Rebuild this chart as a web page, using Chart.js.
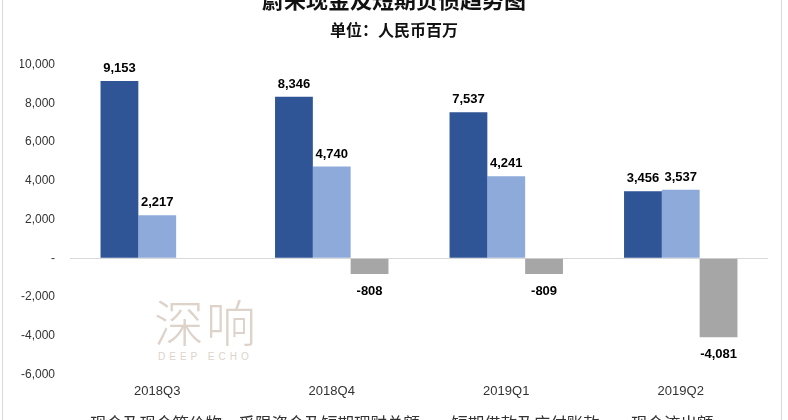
<!DOCTYPE html>
<html lang="zh-CN">
<head>
<meta charset="UTF-8">
<title>蔚来现金及短期负债趋势图</title>
<script src="https://cdn.jsdelivr.net/npm/chart.js@4.4.1/dist/chart.umd.min.js"></script>
<style>
  html, body { margin: 0; padding: 0; background: #fff; overflow: hidden; }
  #frame { position: absolute; left: 0; top: 0; width: 788px; height: 420px; overflow: hidden; }
  #wrap { position: absolute; left: 0; top: -14px; width: 788px; height: 456px; }
  .edge { position: absolute; left: 2px; top: 0; width: 778px; height: 420px;
          border-left: 1px solid #d9d9d9; border-right: 1px solid #d9d9d9; pointer-events: none; }
  .wm { position: absolute; color: #ddd3ca; font-family: "Noto Sans CJK SC", sans-serif; }
  .wm.cn { left: 154px; top: 284px; font-size: 50px; font-weight: 300; letter-spacing: 2px; }
  .wm.en { left: 158px; top: 351px; font-size: 10px; letter-spacing: 4px; font-family: "Liberation Sans", sans-serif; }
</style>
</head>
<body>
<div id="frame">
  <div class="wm cn">深响</div>
  <div class="wm en">DEEP ECHO</div>
  <div id="wrap"><canvas id="chart" width="788" height="456"></canvas></div>
  <div class="edge"></div>
</div>
<script>
// values (RMB million)
const categories = ['2018Q3', '2018Q4', '2019Q1', '2019Q2'];
const cashTotal = [9153, 8346, 7537, 3456];
const shortDebt = [2217, 4740, 4241, 3537];
const cashOutflow = [null, -808, -809, -4081];
const seriesNames = ['现金及现金等价物、受限资金及短期理财总额', '短期借款及应付账款', '现金流出额'];
const seriesColors = ['#2f5597', '#8eaadb', '#a6a6a6'];
const yMin = -6000, yMax = 10000, yStep = 2000;

// value labels above / below each bar
const barLabels = {
  id: 'barLabels',
  afterDatasetsDraw(chart) {
    const ctx = chart.ctx;
    ctx.save();
    ctx.font = 'bold 13px "Liberation Sans", Arial, sans-serif';
    ctx.fillStyle = '#000';
    ctx.textAlign = 'center';
    chart.data.datasets.forEach((ds, i) => {
      chart.getDatasetMeta(i).data.forEach((bar, j) => {
        const v = ds.data[j];
        if (v == null) return;
        const text = v.toLocaleString('en-US');
        if (v >= 0) {
          ctx.textBaseline = 'bottom';
          ctx.fillText(text, bar.x, bar.y - 6);
        } else {
          ctx.textBaseline = 'middle';
          ctx.fillText(text, bar.x, bar.y + 17);
        }
      });
    });
    ctx.restore();
  }
};

const datasets = [cashTotal, shortDebt, cashOutflow].map((data, i) => ({
  label: seriesNames[i],
  data: data,
  backgroundColor: seriesColors[i],
  borderWidth: 0,
  barPercentage: 1,
  categoryPercentage: 0.65
}));

new Chart(document.getElementById('chart'), {
  type: 'bar',
  data: { labels: categories, datasets: datasets },
  plugins: [barLabels],
  options: {
    responsive: false,
    animation: false,
    layout: { padding: { left: 20, right: 20, top: 0, bottom: 0 } },
    plugins: {
      title: {
        display: true,
        text: '蔚来现金及短期负债趋势图',
        color: '#111',
        font: { family: '"Noto Sans CJK SC", sans-serif', size: 22, weight: 'bold' },
        padding: { top: 0, bottom: 0 }
      },
      subtitle: {
        display: true,
        text: '单位：人民币百万',
        color: '#111',
        font: { family: '"Noto Sans CJK SC", sans-serif', size: 16, weight: 'bold' },
        padding: { top: 8, bottom: 25 }
      },
      legend: {
        position: 'bottom',
        labels: {
          boxWidth: 7,
          boxHeight: 7,
          color: '#333',
          padding: 16,
          font: { family: '"Noto Sans CJK SC", sans-serif', size: 16.5 }
        }
      },
      tooltip: { enabled: false }
    },
    scales: {
      x: {
        grid: { display: false, drawTicks: false },
        border: { display: false },
        ticks: {
          color: '#333',
          padding: 9,
          font: { family: '"Liberation Sans", Arial, sans-serif', size: 13 }
        },
        afterFit: s => { s.height = 25; }
      },
      y: {
        min: yMin,
        max: yMax,
        border: { display: false },
        grid: {
          drawTicks: false,
          color: ctx => (ctx.tick && ctx.tick.value === 0 ? '#d9d9d9' : 'rgba(0,0,0,0)')
        },
        ticks: {
          stepSize: yStep,
          color: '#333',
          padding: 15,
          font: { family: '"Liberation Sans", Arial, sans-serif', size: 12 },
          callback: v => (v === 0 ? '-' : v.toLocaleString('en-US'))
        },
        afterFit: s => { s.width = 50; }
      }
    }
  }
});
</script>
</body>
</html>
